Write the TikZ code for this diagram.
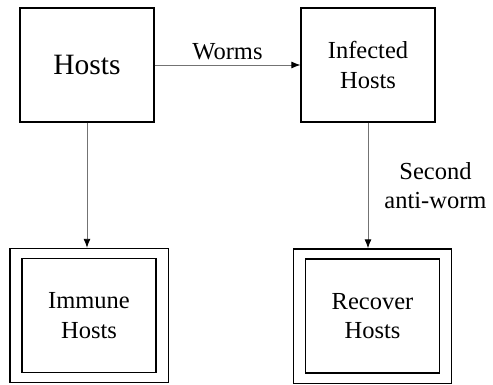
\documentclass[tikz,border=0pt]{standalone}
\usepackage{fontspec}
\setmainfont{Liberation Serif}
\usetikzlibrary{positioning,fit,arrows.meta}

\begin{document}
\begin{tikzpicture}[x=1pt,y=1pt,
    box/.style={draw,line width=1.2pt,minimum width=134pt,minimum height=114pt,
        align=center,font=\fontsize{24.5}{29.5}\selectfont},
    outerbox/.style={draw,line width=1.2pt,inner xsep=11.5pt,inner ysep=9.5pt},
    flow/.style={draw=black!55,line width=0.9pt,-{Latex[length=9pt,width=7pt,black]}},
    lbl/.style={font=\fontsize{24.5}{29.5}\selectfont,align=center}]
    \useasboundingbox (0,0) rectangle (493,384);

    % Draw top boxes
    \node[box,font=\fontsize{29.5}{35}\selectfont] (hosts) at (87,319) {Hosts};
    \node[box] (infected) at (368,319) {Infected\\Hosts};

    % Draw bottom double boxes
    \node[box] (immune) at (89,68.5) {Immune\\Hosts};
    \node[outerbox,fit=(immune)] (immuneout) {};
    \node[box] (recover) at (372.5,68) {Recover\\Hosts};
    \node[outerbox,fit=(recover)] (recoverout) {};

    % Draw arrows
    \draw[flow] (hosts.east) -- node[lbl,above=1pt] {Worms} (infected.west);
    \draw[flow] (hosts.south) -- (hosts.south |- immuneout.north);
    \draw[flow] (infected.south) -- node[lbl,right=16pt,inner sep=0pt] {Second\\anti-worm}
        (infected.south |- recoverout.north);
\end{tikzpicture}
\end{document}
